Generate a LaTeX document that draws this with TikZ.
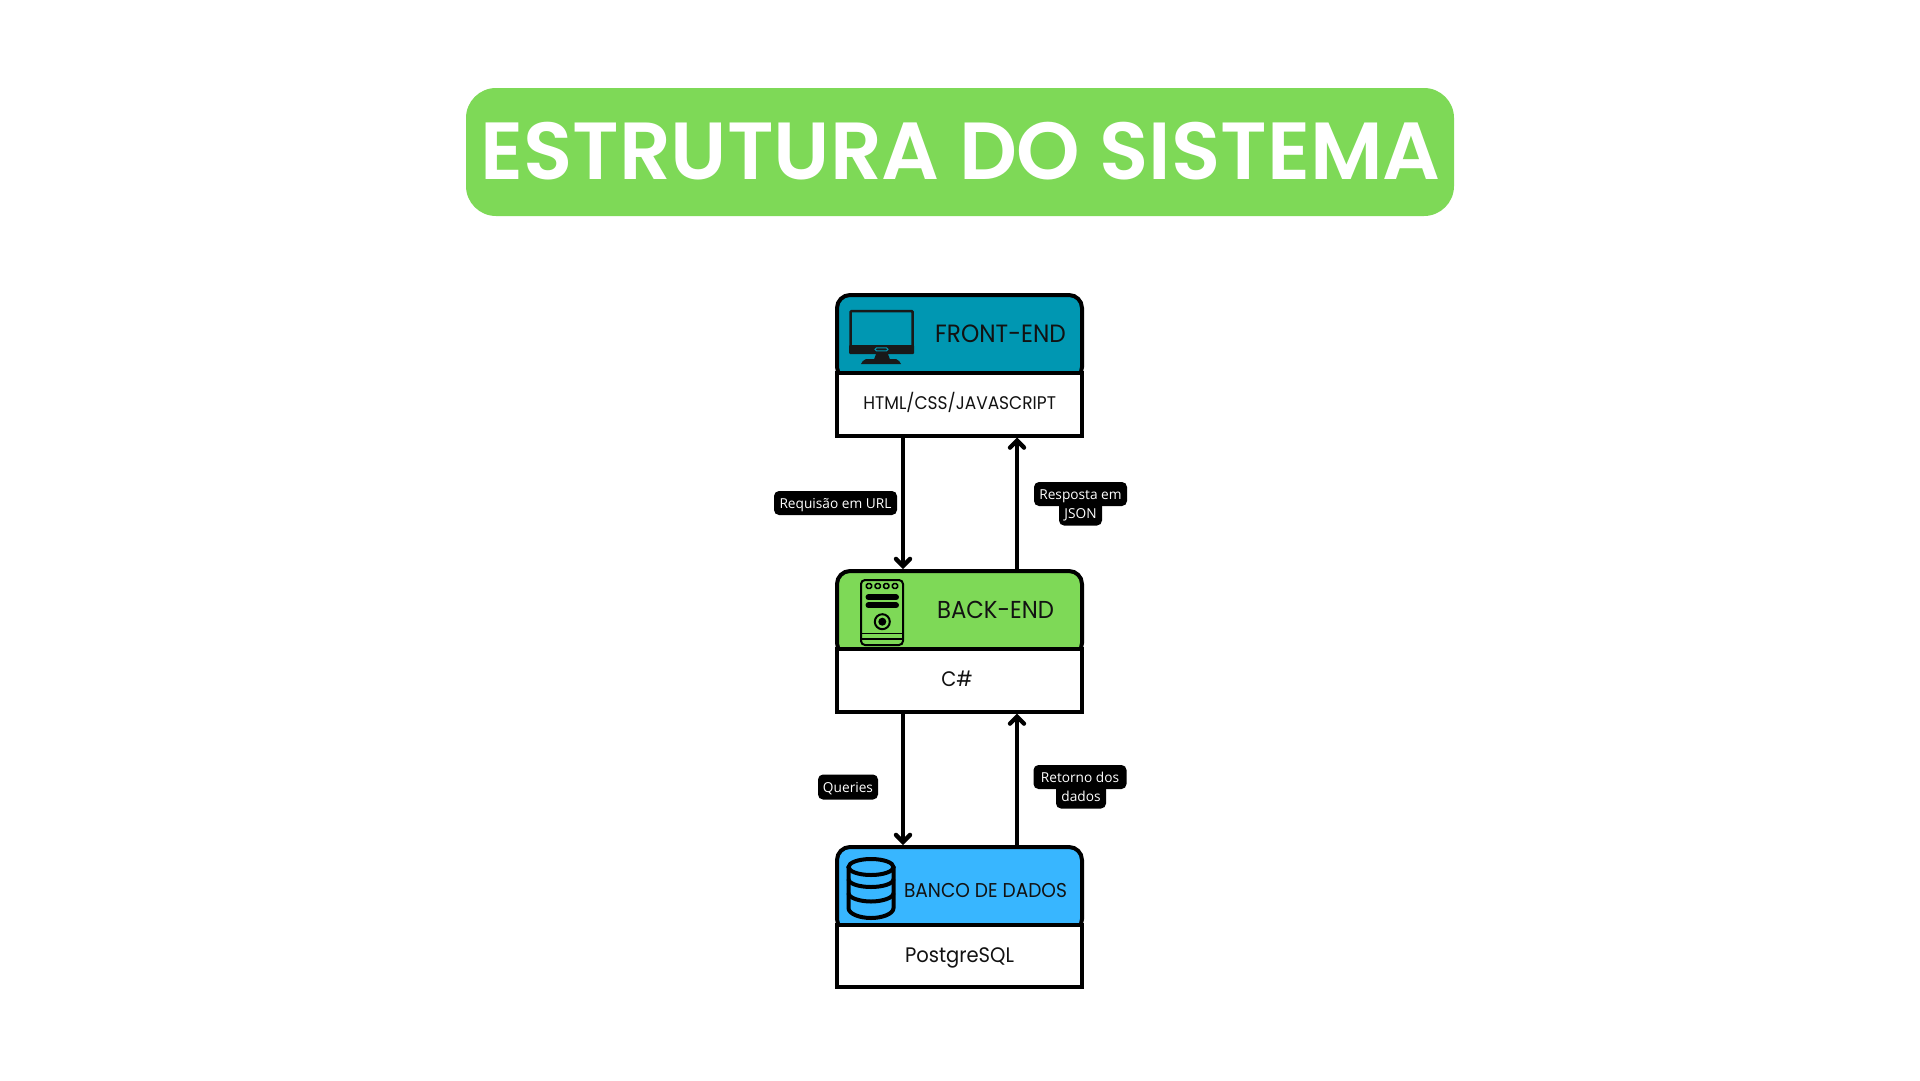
\documentclass[tikz,border=0pt]{standalone}
\usepackage{fontspec}
\usetikzlibrary{arrows.meta}
\newfontfamily\fonttitulo[FakeStretch=0.998]{Poppins SemiBold}
\newfontfamily\fontcaixa[FakeStretch=0.93]{Poppins}
\newfontfamily\fontetiq{Open Sans}
\definecolor{verde}{HTML}{7ED957}
\definecolor{azulfront}{HTML}{0097B2}
\definecolor{azulbanco}{HTML}{38B6FF}
\tikzset{
    cabeca/.style={draw,line width=4pt,rounded corners=13pt,minimum width=245pt,minimum height=85pt,inner sep=0pt},
    corpo/.style={draw,line width=4pt,fill=white,minimum width=245pt,minimum height=62.5pt,inner sep=0pt},
    rotulo/.style={inner sep=0pt,font=\fontcaixa\fontsize{#1}{#1}\selectfont,text height=0.7*#1pt,text depth=0pt,text=black!93},
    etiqueta/.style={fill=black,rounded corners=5pt,inner sep=0pt,text=white,font=\fontetiq\fontsize{13.7}{15}\selectfont,text height=10pt,text depth=0pt},
    seta/.style={line width=4.4pt,-{Straight Barb[length=7pt,width=14pt,line cap=round]}},
    traco/.style={line width=2pt,rounded corners=3pt}
}
\begin{document}
\begin{tikzpicture}[x=1pt,y=-1pt]
    \useasboundingbox (0,0) rectangle (1920,1080);

    % titulo
    \node[fill=verde,rounded corners=30pt,minimum width=988pt,minimum height=128pt,inner sep=0pt] (titulofundo) at (960,152) {};
    \node[inner sep=0pt,text=white,font=\fonttitulo\fontsize{81}{81}\selectfont,text height=57pt,text depth=0pt] (titulo) at (960.5,150.5) {ESTRUTURA DO SISTEMA};

    % caixas
    \node[cabeca,fill=azulfront] (fronthead) at (959.5,337.5) {};
    \node[corpo] (frontbody) at (959.5,404.25) {};
    \node[cabeca,fill=verde] (backhead) at (959.5,613.5) {};
    \node[corpo] (backbody) at (959.5,680.25) {};
    \node[cabeca,fill=azulbanco] (dbhead) at (959.5,889.5) {};
    \node[corpo] (dbbody) at (959.5,956) {};

    \node[rotulo=25] (fronttitle) at (1000.5,334) {FRONT-END};
    \node[rotulo=18.3] (fronttext) at (959.7,403) {HTML/CSS/JAVASCRIPT};
    \node[rotulo=24.5] (backtitle) at (995.5,610) {BACK-END};
    \node[rotulo=21] (backtext) at (957,679) {C\#};
    \node[rotulo=20] (dbtitle) at (985.5,890) {BANCO DE DADOS};
    \node[rotulo=21] (dbtext) at (959.5,955) {PostgreSQL};

    % setas
    \coordinate (desce) at (903,0);
    \coordinate (sobe) at (1017,0);
    \draw[seta] (frontbody.south -| desce) -- (backhead.north -| desce);
    \draw[seta] (backhead.north -| sobe) -- (frontbody.south -| sobe);
    \draw[seta] (backbody.south -| desce) -- (dbhead.north -| desce);
    \draw[seta] (dbhead.north -| sobe) -- (backbody.south -| sobe);

    % etiquetas
    \node[etiqueta,minimum width=123pt,minimum height=24pt] (requisicao) at (835.5,503) {Requisão em URL};
    \node[etiqueta,minimum width=43pt,minimum height=25pt] (json) at (1080.5,513) {JSON};
    \node[etiqueta,minimum width=93pt,minimum height=24pt] (resposta) at (1080.5,494) {Resposta em};
    \node[etiqueta,minimum width=60pt,minimum height=25pt] (queries) at (848,787) {Queries};
    \node[etiqueta,minimum width=50pt,minimum height=25pt] (dados) at (1081,796) {dados};
    \node[etiqueta,minimum width=93pt,minimum height=24pt] (retorno) at (1080,777) {Retorno dos};

    % monitor
    \draw[black!90,line width=2.5pt,rounded corners=1pt] (850.5,311) rectangle (912.5,352);
    \fill[black!90,rounded corners=1pt] (849,345) rectangle (914,354);
    \draw[azulfront,line width=1pt,rounded corners=1.5pt] (875,347.8) rectangle (888,350.8);
    \fill[black!90] (876,354) -- (888,354) -- (890,359.5) -- (874,359.5) -- cycle;
    \fill[black!90] (866,359) -- (896,359) .. controls (899,360) and (900,362) .. (901,364) -- (861,364) .. controls (862,362) and (863,360) .. (866,359) -- cycle;

    % servidor
    \draw[traco,rounded corners=4pt] (861,580) rectangle (903,645);
    \foreach \x in {869,877.7,886.3,895}
        \draw[line width=1.6pt,rounded corners=1.5pt] (\x-2.6,583.6) rectangle (\x+2.6,588.4);
    \draw[line width=6pt,line cap=round] (868.5,597.3) -- (896,597.3);
    \draw[line width=6pt,line cap=round] (868.5,605.3) -- (896,605.3);
    \draw[line width=2pt] (882.3,621.7) circle [radius=7.5pt];
    \fill (882.3,621.7) circle [radius=4pt];
    \draw[line width=1.6pt] (861,633.3) -- (903,633.3);
    \draw[line width=1.6pt] (861,639) -- (903,639);

    % banco
    \draw[line width=4pt] (871,867) ellipse [x radius=22.5pt,y radius=8pt];
    \draw[line width=4pt] (848.5,867) -- (848.5,908) .. controls (848.5,914) and (860,918) .. (871,918) .. controls (882,918) and (893.5,914) .. (893.5,908) -- (893.5,867);
    \draw[line width=4pt] (848.5,879) .. controls (848.5,884) and (860,887) .. (871,887) .. controls (882,887) and (893.5,884) .. (893.5,879);
    \draw[line width=4pt] (848.5,893) .. controls (848.5,898) and (860,901.5) .. (871,901.5) .. controls (882,901.5) and (893.5,898) .. (893.5,893);
\end{tikzpicture}
\end{document}
